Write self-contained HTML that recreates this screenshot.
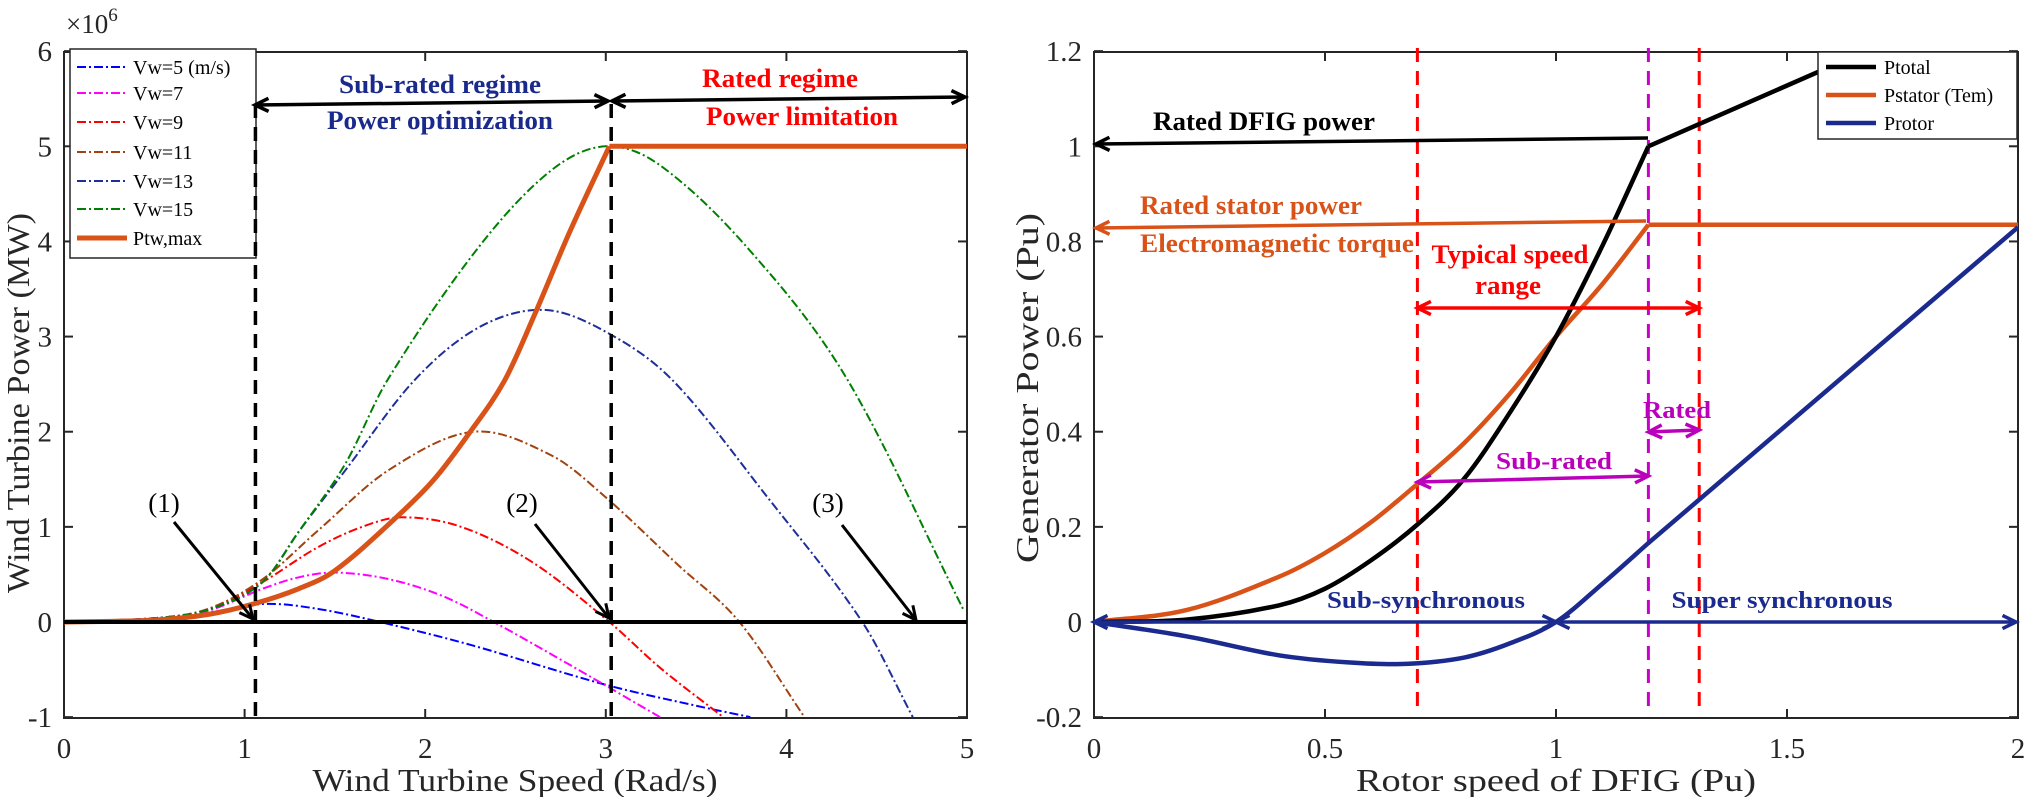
<!DOCTYPE html>
<html><head><meta charset="utf-8"><style>
html,body{margin:0;padding:0;background:#fff;}
svg{display:block;font-family:"Liberation Serif",serif;}
</style></head><body>
<svg id="fig" width="2025" height="797" viewBox="0 0 2025 797" xmlns="http://www.w3.org/2000/svg">
<defs>
<clipPath id="clipL"><rect x="64" y="52" width="903" height="666"/></clipPath>
<clipPath id="clipR"><rect x="1094" y="52" width="924" height="666"/></clipPath>
</defs>
<g id="left"></g>
<g id="right"></g>
</svg>
<script>
// ---------- LEFT CHART DATA ----------
const leftXTicks = [0,1,2,3,4,5];
const leftYTicks = [-1,0,1,2,3,4,5,6];
const vw5X  = [0,0.5,0.8,1.11,1.4,1.75,2.25,3.0,3.5,3.8];
const vw5Y  = [0,0.04,0.1,0.19,0.14,0,-0.24,-0.66,-0.88,-1.0];
const vw7X  = [0,0.5,0.8,1.1,1.3,1.5,1.8,2.1,2.38,2.8,3.3];
const vw7Y  = [0,0.04,0.12,0.35,0.47,0.52,0.45,0.27,0,-0.45,-1];
const vw9X  = [0,0.5,0.8,1.1,1.4,1.65,1.87,2.2,2.6,3.02,3.3,3.65];
const vw9Y  = [0,0.04,0.13,0.42,0.78,1.0,1.1,1.0,0.62,0,-0.48,-1];
const vw11X = [0,0.5,0.8,1.1,1.4,1.8,2.27,2.7,3.0,3.4,3.74,4.1];
const vw11Y = [0,0.04,0.14,0.45,0.95,1.6,2.0,1.75,1.31,0.6,0,-1];
const vw13X = [0,0.5,0.8,1.1,1.3,1.56,1.94,2.3,2.66,3.0,3.37,3.9,4.42,4.7];
const vw13Y = [0,0.04,0.13,0.42,0.95,1.6,2.54,3.1,3.28,3.05,2.54,1.3,0,-1];
const vw15X = [0,0.5,0.8,1.1,1.3,1.56,1.79,2.3,2.7,3.0,3.3,3.8,4.34,4.98];
const vw15Y = [0,0.04,0.13,0.42,0.95,1.67,2.54,3.95,4.75,5.0,4.8,3.9,2.54,0.13];
const ptwX  = [0,0.5,0.8,1.05,1.3,1.5,1.84,2.05,2.25,2.44,2.61,2.8,3.02];
const ptwY  = [0,0.02,0.08,0.19,0.35,0.54,1.1,1.5,2.0,2.54,3.25,4.1,5.0];
const ptwRatedX = [3.02,5];
const ptwRatedY = [5,5];
const legendLeftLabels = ["Vw=5 (m/s)","Vw=7","Vw=9","Vw=11","Vw=13","Vw=15","Ptw,max"];

// ---------- RIGHT CHART DATA ----------
const rightXTicks = [0,0.5,1,1.5,2];
const rightXTickLabels = ["0","0.5","1","1.5","2"];
const rightYTicks = [-0.2,0,0.2,0.4,0.6,0.8,1,1.2];
const rightYTickLabels = ["-0.2","0","0.2","0.4","0.6","0.8","1","1.2"];
const ptotalX = [0,0.2,0.4,0.5,0.6,0.7,0.8,0.9,1.0,1.1,1.2];
const ptotalY = [0,0.005,0.035,0.07,0.13,0.205,0.3,0.44,0.6,0.79,1.0];
const ptotalLinX = [1.2,1.67];
const ptotalLinY = [1.0,1.2];
const pstatorX = [0,0.2,0.4,0.5,0.6,0.7,0.8,0.9,1.0,1.1,1.2];
const pstatorY = [0,0.025,0.095,0.145,0.21,0.29,0.375,0.48,0.6,0.71,0.835];
const pstatorFlatX = [1.2,2];
const pstatorFlatY = [0.835,0.835];
const protorX = [0,0.2,0.4,0.55,0.675,0.8,0.9,1.0,1.1,1.2];
const protorY = [0,-0.03,-0.07,-0.085,-0.088,-0.075,-0.045,0,0.08,0.166];
const protorLinX = [1.2,2];
const protorLinY = [0.166,0.83];
const legendRightLabels = ["Ptotal","Pstator (Tem)","Protor"];

const NS="http://www.w3.org/2000/svg";
function mk(parent,tag,attrs,text){const e=document.createElementNS(NS,tag);for(const k in attrs)e.setAttribute(k,attrs[k]);if(text!==undefined)e.textContent=text;parent.appendChild(e);return e;}

const Lx=v=>64+v*180.6, Ly=v=>622-v*95.14;
const Rx=v=>1094+v*462, Ry=v=>622-v*475.7;

function smoothPath(xs,ys,sx,sy){
  const X=xs.map(sx),Y=ys.map(sy),n=X.length;
  if(n<3){return "M"+X[0]+","+Y[0]+" L"+X[1]+","+Y[1];}
  const m=[];
  m[0]=(Y[1]-Y[0])/(X[1]-X[0]);m[n-1]=(Y[n-1]-Y[n-2])/(X[n-1]-X[n-2]);
  for(let i=1;i<n-1;i++){m[i]=(Y[i+1]-Y[i-1])/(X[i+1]-X[i-1]);}
  let p="M"+X[0].toFixed(1)+","+Y[0].toFixed(1);
  for(let i=0;i<n-1;i++){const h=(X[i+1]-X[i])/3;
    p+=" C"+(X[i]+h).toFixed(1)+","+(Y[i]+m[i]*h).toFixed(1)+" "+(X[i+1]-h).toFixed(1)+","+(Y[i+1]-m[i+1]*h).toFixed(1)+" "+X[i+1].toFixed(1)+","+Y[i+1].toFixed(1);}
  return p;
}
function head(g,x,y,ang,color,w){
  const L=15,a=0.45;
  const p=`M${x-L*Math.cos(ang-a)},${y-L*Math.sin(ang-a)} L${x},${y} L${x-L*Math.cos(ang+a)},${y-L*Math.sin(ang+a)}`;
  const h=mk(g,"path",{d:p,fill:"none",stroke:color,"stroke-width":w});
  
  
}
function arrow(g,x1,y1,x2,y2,color,w,both,name){
  const grp=mk(g,"g",{});
  
  
  mk(grp,"line",{x1,y1,x2,y2,stroke:color,"stroke-width":w});
  const ang=Math.atan2(y2-y1,x2-x1);
  head(grp,x2,y2,ang,color,w);
  if(both)head(grp,x1,y1,ang+Math.PI,color,w);
}
function txt(g,x,y,s,attrs,name){
  const a=Object.assign({x,y},attrs);
  const t=mk(g,"text",a,s);
  
  
  return t;
}
function axesBox(g,x0,y0,x1,y1,xt,yt,sx,sy,xl,yl,name){
  const ax=mk(g,"g",{});
  
  
  mk(ax,"rect",{x:x0,y:y0,width:x1-x0,height:y1-y0,fill:"none",stroke:"#262626","stroke-width":2});
  xt.forEach((v,i)=>{const x=sx(v);
    mk(ax,"line",{x1:x,y1:y1,x2:x,y2:y1-9,stroke:"#262626","stroke-width":2});
    mk(ax,"line",{x1:x,y1:y0,x2:x,y2:y0+9,stroke:"#262626","stroke-width":2});
    txt(ax,x,758,xl[i],{"font-size":29,"text-anchor":"middle",fill:"#262626"},'x-tick-label');});
  yt.forEach((v,i)=>{const y=sy(v);
    mk(ax,"line",{x1:x0,y1:y,x2:x0+9,y2:y,stroke:"#262626","stroke-width":2});
    mk(ax,"line",{x1:x1,y1:y,x2:x1-9,y2:y,stroke:"#262626","stroke-width":2});
    txt(ax,x0-12,y+10,yl[i],{"font-size":29,"text-anchor":"end",fill:"#262626"},'y-tick-label');});
}
function series(g,xs,ys,sx,sy,color,w,dash,name,clip){
  const p=mk(g,"path",{d:smoothPath(xs,ys,sx,sy),fill:"none",stroke:color,"stroke-width":w,"clip-path":clip,"stroke-linejoin":"round"});
  if(dash)p.setAttribute("stroke-dasharray",dash);
  
  
  return p;
}

// ===== LEFT =====
const L=document.getElementById("left");
axesBox(L,64,52,967,718,leftXTicks,leftYTicks,Lx,Ly,leftXTicks.map(String),leftYTicks.map(String),'left-axes');
const mult=txt(L,66,33,"×10",{"font-size":27,fill:"#262626"},'y-multiplier');
mk(mult,"tspan",{"font-size":19,dy:-12},"6");
const dd="9,3,2,3";
const leftSeries=[[vw5X,vw5Y,"#0000ff","vw5-curve"],[vw7X,vw7Y,"#ff00ff","vw7-curve"],[vw9X,vw9Y,"#ff0000","vw9-curve"],
 [vw11X,vw11Y,"#a2420f","vw11-curve"],[vw13X,vw13Y,"#1f2f9a","vw13-curve"],[vw15X,vw15Y,"#008000","vw15-curve"]];
leftSeries.forEach(s=>series(L,s[0],s[1],Lx,Ly,s[2],2,dd,s[3],"url(#clipL)"));
series(L,ptwX,ptwY,Lx,Ly,"#d95319",5,null,"ptw-max-curve","url(#clipL)");
series(L,ptwRatedX,ptwRatedY,Lx,Ly,"#d95319",5,null,"ptw-max-rated","url(#clipL)");
const zl=mk(L,"line",{x1:Lx(0),y1:Ly(0),x2:Lx(5),y2:Ly(0),stroke:"#000","stroke-width":4});


// legend
const lg=mk(L,"g",{});


mk(lg,"rect",{x:70,y:49,width:186,height:209,fill:"#fff",stroke:"#262626","stroke-width":1.5});
const legColors=["#0000ff","#ff00ff","#ff0000","#a2420f","#1f2f9a","#008000","#d95319"];
const legBase=[74,100,129,159,188,216,245];
legendLeftLabels.forEach((s,i)=>{
  const e=mk(lg,"g",{});
  
  
  const ln=mk(e,"line",{x1:77,y1:legBase[i]-7,x2:127,y2:legBase[i]-7,stroke:legColors[i],"stroke-width":i==6?5:2});
  if(i<6)ln.setAttribute("stroke-dasharray","9,3,2,3");
  txt(e,133,legBase[i],s,{"font-size":20,fill:"#000"},'legend-label');
});
[[1.06,"dashed-line-1"],[3.03,"dashed-line-3"]].forEach(d=>{
  const l=mk(L,"line",{x1:Lx(d[0]),y1:104,x2:Lx(d[0]),y2:718,stroke:"#000","stroke-width":3.5,"stroke-dasharray":"14,9"});
  
  
});
arrow(L,255,105,608,101,"#000",3.5,true,"sub-rated-arrow");
arrow(L,612,101,965,97,"#000",3.5,true,"rated-arrow");
txt(L,440,93,"Sub-rated regime",{"font-size":26,"font-weight":"bold",fill:"#1a2a8c","text-anchor":"middle",textLength:202,lengthAdjust:"spacingAndGlyphs"},'sub-rated-label');
txt(L,440,129,"Power optimization",{"font-size":26,"font-weight":"bold",fill:"#1a2a8c","text-anchor":"middle",textLength:226,lengthAdjust:"spacingAndGlyphs"},'power-optimization-label');
txt(L,780,87,"Rated regime",{"font-size":26,"font-weight":"bold",fill:"#ff0000","text-anchor":"middle",textLength:156,lengthAdjust:"spacingAndGlyphs"},'rated-regime-label');
txt(L,802,125,"Power limitation",{"font-size":26,"font-weight":"bold",fill:"#ff0000","text-anchor":"middle",textLength:192,lengthAdjust:"spacingAndGlyphs"},'power-limitation-label');
txt(L,164,512,"(1)",{"font-size":27,"text-anchor":"middle",fill:"#000"},'point-1-label');
txt(L,522,512,"(2)",{"font-size":27,"text-anchor":"middle",fill:"#000"},'point-2-label');
txt(L,828,512,"(3)",{"font-size":27,"text-anchor":"middle",fill:"#000"},'point-3-label');
arrow(L,174,522,253,619,"#000",3,false,"point-1-arrow");
arrow(L,535,524,609,618,"#000",3,false,"point-2-arrow");
arrow(L,842,525,916,620,"#000",3,false,"point-3-arrow");
txt(L,0,0,"Wind Turbine Power (MW)",{"font-size":32,fill:"#262626","text-anchor":"middle",transform:"translate(29,403) rotate(-90)",textLength:380,lengthAdjust:"spacingAndGlyphs"},'y-axis-title');
txt(L,515,791,"Wind Turbine Speed (Rad/s)",{"font-size":32,fill:"#262626","text-anchor":"middle",textLength:405,lengthAdjust:"spacingAndGlyphs"},'x-axis-title');

// ===== RIGHT =====
const R=document.getElementById("right");
axesBox(R,1094,52,2018,718,rightXTicks,rightYTicks,Rx,Ry,rightXTickLabels,rightYTickLabels,'right-axes');
[[0.7,"#ff0000","red-dashed-0-7"],[1.31,"#ff0000","red-dashed-1-31"],[1.2,"#cc00cc","magenta-dashed-1-2"]].forEach(d=>{
  const l=mk(R,"line",{x1:Rx(d[0]),y1:48,x2:Rx(d[0]),y2:712,stroke:d[1],"stroke-width":3,"stroke-dasharray":"14,9"});
  
  
});
series(R,pstatorX,pstatorY,Rx,Ry,"#d95319",4.5,null,"pstator-curve","url(#clipR)");
series(R,pstatorFlatX,pstatorFlatY,Rx,Ry,"#d95319",4.5,null,"pstator-flat","url(#clipR)");
series(R,ptotalX,ptotalY,Rx,Ry,"#000",4.5,null,"ptotal-curve","url(#clipR)");
series(R,ptotalLinX,ptotalLinY,Rx,Ry,"#000",4.5,null,"ptotal-linear","url(#clipR)");
series(R,protorX,protorY,Rx,Ry,"#1b2a8e",4.5,null,"protor-curve","url(#clipR)");
series(R,protorLinX,protorLinY,Rx,Ry,"#1b2a8e",4.5,null,"protor-linear","url(#clipR)");
arrow(R,1648,138,1096,144,"#000",3.5,false,"rated-dfig-arrow");
txt(R,1264,130,"Rated DFIG power",{"font-size":26,"font-weight":"bold",fill:"#000","text-anchor":"middle",textLength:222,lengthAdjust:"spacingAndGlyphs"},'rated-dfig-label');
arrow(R,1646,221,1096,228,"#d95319",3.5,false,"rated-stator-arrow");
txt(R,1251,214,"Rated stator power",{"font-size":26,"font-weight":"bold",fill:"#d95319","text-anchor":"middle",textLength:222,lengthAdjust:"spacingAndGlyphs"},'rated-stator-label');
txt(R,1277,252,"Electromagnetic torque",{"font-size":26,"font-weight":"bold",fill:"#d95319","text-anchor":"middle",textLength:274,lengthAdjust:"spacingAndGlyphs"},'electromagnetic-torque-label');
txt(R,1510,263,"Typical speed",{"font-size":26,"font-weight":"bold",fill:"#ff0000","text-anchor":"middle",textLength:157,lengthAdjust:"spacingAndGlyphs"},'typical-speed-label');
txt(R,1508,294,"range",{"font-size":26,"font-weight":"bold",fill:"#ff0000","text-anchor":"middle",textLength:66,lengthAdjust:"spacingAndGlyphs"},'range-label');
arrow(R,Rx(0.7),308,Rx(1.31),308,"#ff0000",3.5,true,"typical-range-arrow");
txt(R,1677,418,"Rated",{"font-size":24,"font-weight":"bold",fill:"#bb00bb","text-anchor":"middle",textLength:68,lengthAdjust:"spacingAndGlyphs"},'rated-label');
arrow(R,Rx(1.2),432,Rx(1.31),430,"#bb00bb",3.5,true,"rated-range-arrow");
txt(R,1554,469,"Sub-rated",{"font-size":24,"font-weight":"bold",fill:"#bb00bb","text-anchor":"middle",textLength:116,lengthAdjust:"spacingAndGlyphs"},'sub-rated-range-label');
arrow(R,Rx(0.7),482,Rx(1.2),476,"#bb00bb",3.5,true,"sub-rated-range-arrow");
arrow(R,Rx(0),Ry(0),Rx(1),Ry(0),"#1b2a8e",3.5,true,"sub-synchronous-arrow");
arrow(R,Rx(1),Ry(0),Rx(2)-2,Ry(0),"#1b2a8e",3.5,true,"super-synchronous-arrow");
txt(R,1426,608,"Sub-synchronous",{"font-size":24,"font-weight":"bold",fill:"#1b2a8e","text-anchor":"middle",textLength:198,lengthAdjust:"spacingAndGlyphs"},'sub-synchronous-label');
txt(R,1782,608,"Super synchronous",{"font-size":24,"font-weight":"bold",fill:"#1b2a8e","text-anchor":"middle",textLength:221,lengthAdjust:"spacingAndGlyphs"},'super-synchronous-label');
const rg=mk(R,"g",{});


mk(rg,"rect",{x:1818,y:52,width:199,height:87,fill:"#fff",stroke:"#262626","stroke-width":1.5});
const rCols=["#000","#d95319","#1b2a8e"];
const rBase=[74,102,130];
legendRightLabels.forEach((s,i)=>{
  const e=mk(rg,"g",{});
  
  
  mk(e,"line",{x1:1826,y1:rBase[i]-7,x2:1876,y2:rBase[i]-7,stroke:rCols[i],"stroke-width":4.5});
  txt(e,1884,rBase[i],s,{"font-size":20,fill:"#000"},'legend-label');
});
txt(R,0,0,"Generator Power (Pu)",{"font-size":32,fill:"#262626","text-anchor":"middle",transform:"translate(1038,388) rotate(-90)",textLength:350,lengthAdjust:"spacingAndGlyphs"},'y-axis-title');
txt(R,1556,791,"Rotor speed of DFIG (Pu)",{"font-size":32,fill:"#262626","text-anchor":"middle",textLength:400,lengthAdjust:"spacingAndGlyphs"},'x-axis-title');
</script>
</body></html>
